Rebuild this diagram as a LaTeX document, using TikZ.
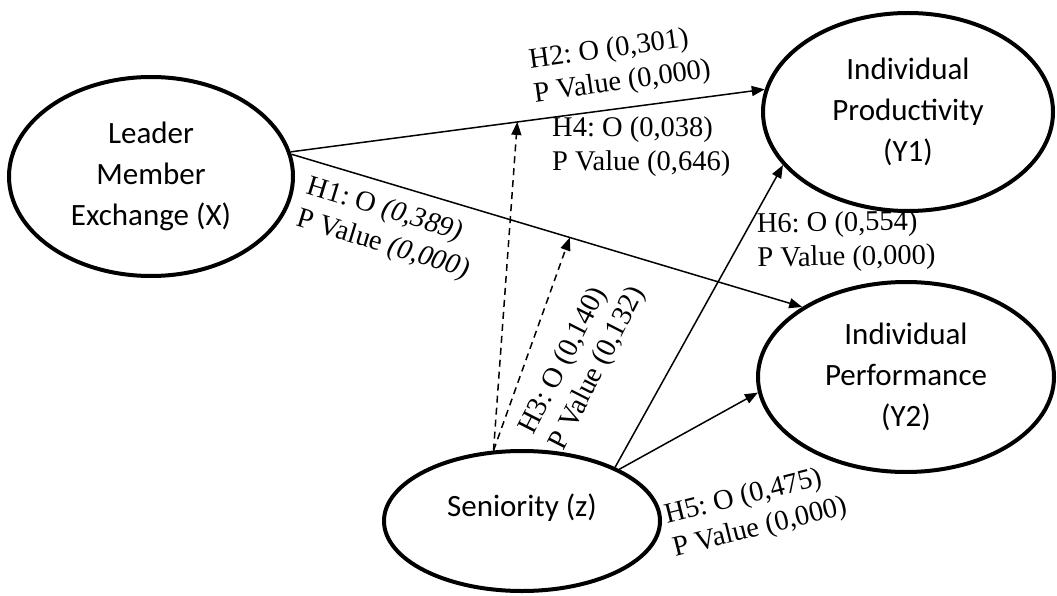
\documentclass[tikz,border=0pt]{standalone}
\usepackage{fontspec}
\setmainfont{Liberation Serif}
\newfontfamily\calibri{Carlito}
\usetikzlibrary{shapes.geometric,arrows.meta}
\frenchspacing
\begin{document}
\begin{tikzpicture}[x=1pt,y=-1pt,
  latent/.style={ellipse, draw, line width=4pt, inner sep=0pt, align=center,
    font=\calibri\fontsize{31}{41}\selectfont},
  conn/.style={line width=1.5pt, -{Triangle[length=13pt,width=10pt]}},
  dconn/.style={conn, dash pattern=on 7pt off 5pt},
  lab/.style={font=\fontsize{28.5}{34}\selectfont, align=left, inner sep=0pt}
]
\useasboundingbox (0,0) rectangle (1057,596);

\node[latent, minimum width=284pt, minimum height=199pt] (X) at (151,176.5) {Leader\\Member\\Exchange (X)};
\node[latent, minimum width=290pt, minimum height=198pt] (Y1) at (908,112) {Individual\\Productivity\\(Y1)};
\node[latent, minimum width=296pt, minimum height=190pt] (Y2) at (906,377) {Individual\\Performance\\(Y2)};
\node[latent, minimum width=276pt, minimum height=140pt,
  label={[font=\calibri\fontsize{31}{41}\selectfont, yshift=13pt]center:Seniority (z)}] (Z) at (522,521) {};

\draw[conn] (X.10) -- coordinate[pos=0.478] (h4) (Y1.171);
\draw[conn] (X.9) -- coordinate[pos=0.545] (h3) (Y2.146);
\draw[conn] (Z.30) -- (Y1.203);
\draw[conn] (Z.28) -- (Y2.186);
\draw[dconn] (Z.112) -- (h4);
\draw[dconn] (Z.112) -- (h3);

\node[lab, rotate=8] (l2) at (620,66) {H2: O (0,301)\\P Value (0,000)};
\node[lab, anchor=west] (l4) at (552,147) {H4: O (0,038)\\P Value (0,646)};
\node[lab, rotate=-17] (l1) at (388,229) {H1: O \textit{(0,389)}\\P Value \textit{(0,000)}};
\node[lab, rotate=63] (l3) at (583,361) {H3: O (0,140)\\P Value (0,132)};
\node[lab, anchor=west, rotate=1] (l6) at (757,243) {H6: O (0,554)\\P Value (0,000)};
\node[lab, rotate=14] (l5) at (756,512) {H5: O (0,475)\\P Value (0,000)};
\end{tikzpicture}
\end{document}
